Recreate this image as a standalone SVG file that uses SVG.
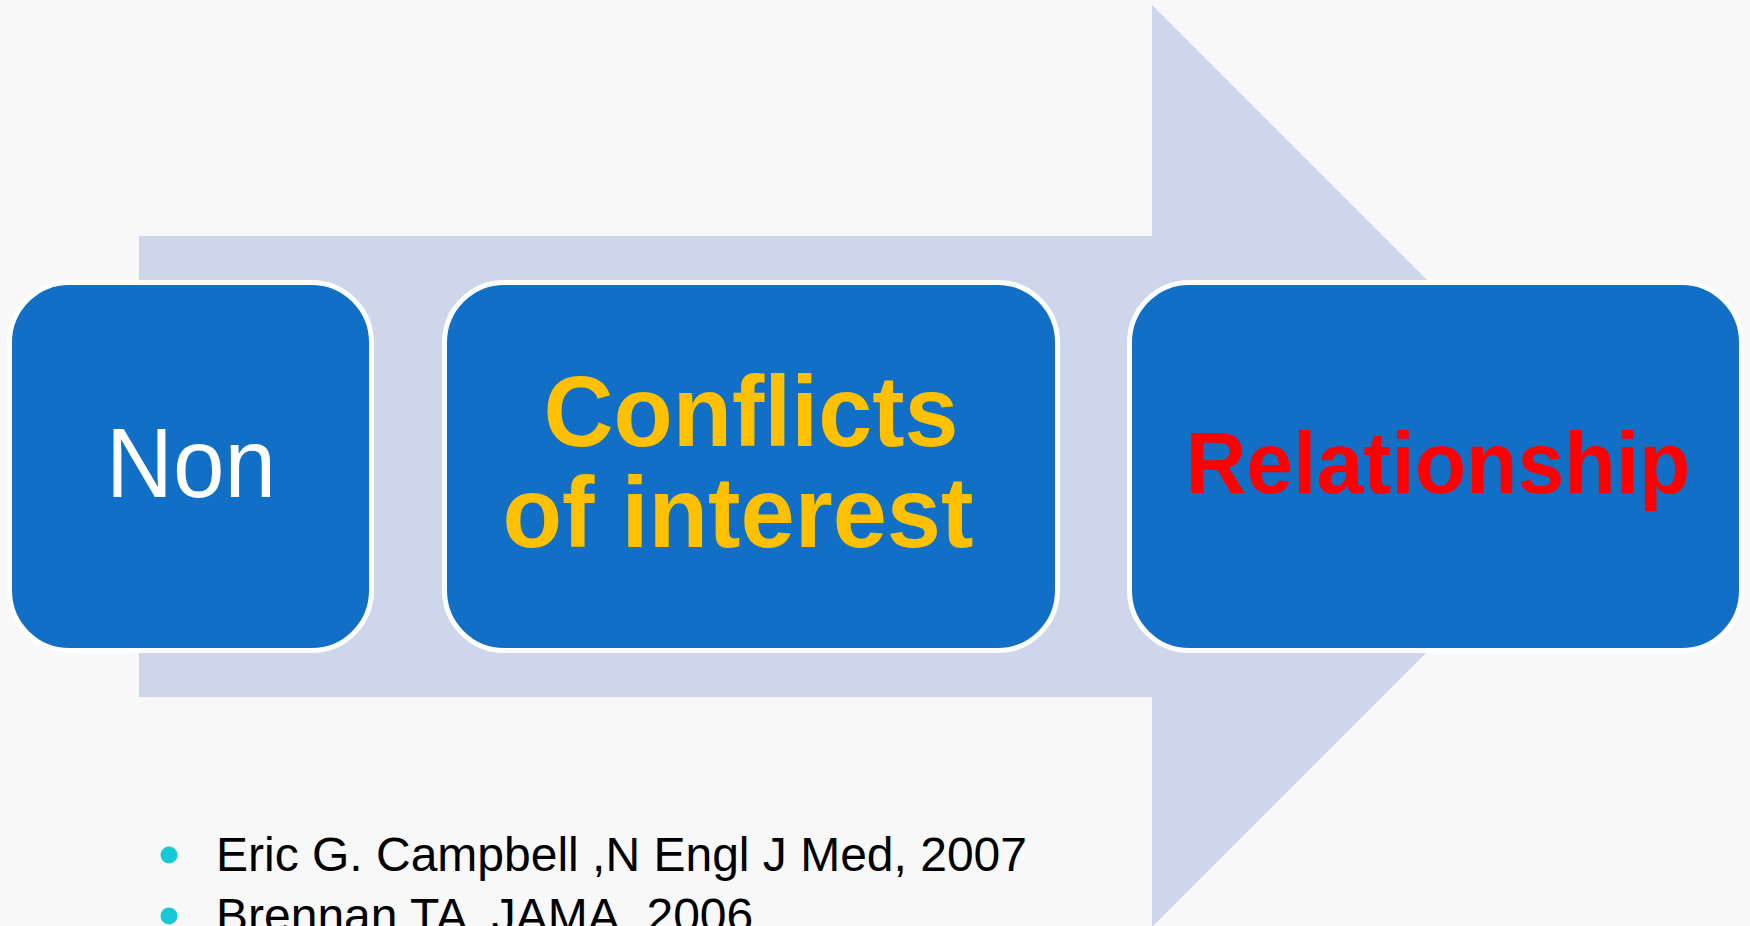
<svg xmlns="http://www.w3.org/2000/svg" width="1750" height="926" viewBox="0 0 1750 926">
<style>
.box{fill:#1170C5;stroke:#FFFFFF;stroke-width:5}
.lbl{font-family:"Liberation Sans",Arial,sans-serif;text-anchor:middle}
.b{font-weight:bold}
.ref{font-family:"Liberation Sans",Arial,sans-serif;font-size:48px;fill:#000000}
.dot{fill:#17C8D8}
</style>
<rect x="0" y="0" width="1750" height="926" fill="#F8F8F8"/>
<g id="arrow">
<polygon points="139,236 1152,236 1152,5 1613,466 1152,927 1152,697 139,697" fill="#CDD6EA"/>
</g>
<g id="connectors"></g>
<g id="node-non">
<rect class="box" x="9.5" y="282.5" width="362" height="368" rx="60"/>
<text class="lbl" x="191" y="497" font-size="99" fill="#FFFFFF" textLength="170" lengthAdjust="spacingAndGlyphs">Non</text>
</g>
<g id="node-conflicts">
<rect class="box" x="444.5" y="282.5" width="613" height="368" rx="60"/>
<text class="lbl b" x="751" y="446" font-size="100" fill="#FFC000" textLength="415" lengthAdjust="spacingAndGlyphs">Conflicts</text>
<text class="lbl b" x="738" y="547" font-size="100" fill="#FFC000" textLength="471" lengthAdjust="spacingAndGlyphs">of interest</text>
</g>
<g id="node-relationship">
<rect class="box" x="1129.5" y="282.5" width="612" height="368" rx="60"/>
<text class="lbl b" x="1438" y="493" font-size="87" fill="#FF0000" textLength="505" lengthAdjust="spacingAndGlyphs">Relationship</text>
</g>
<g id="references">
<circle class="dot" cx="169" cy="855" r="8.5"/>
<text class="ref" x="216" y="871">Eric G. Campbell ,N Engl J Med, 2007</text>
<circle class="dot" cx="169" cy="916" r="8.5"/>
<text class="ref" x="216" y="932">Brennan TA ,JAMA, 2006</text>
</g>
</svg>
